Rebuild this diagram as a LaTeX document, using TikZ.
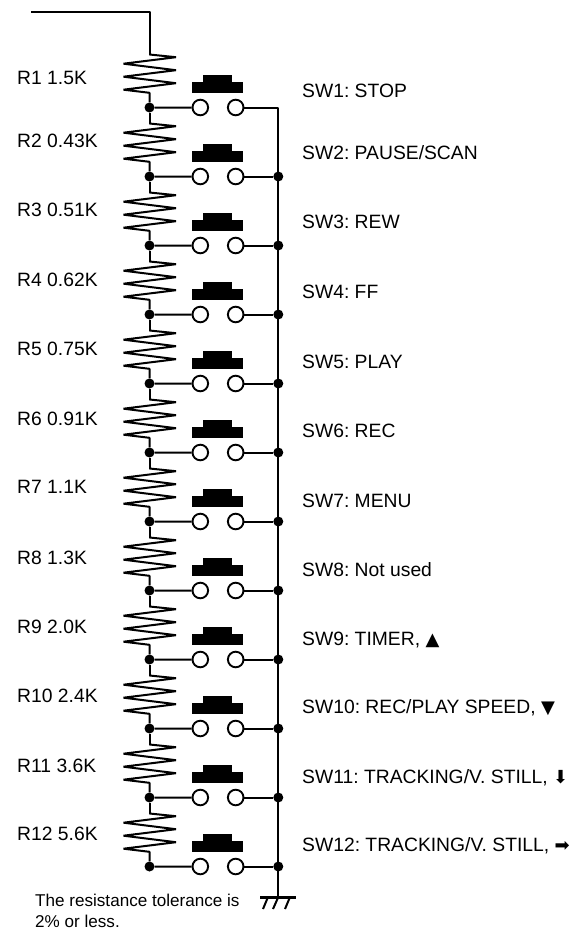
\documentclass[tikz,border=0pt]{standalone}
\usepackage{fontspec}
\setmainfont{Liberation Sans}
\newfontfamily\symfont{DejaVu Sans}
\frenchspacing
\tikzset{
  wire/.style={black, line width=2, line join=bevel},
  junction/.style={circle, fill=black, inner sep=0, minimum size=10},
  contact/.style={circle, draw=black, fill=white, line width=1.9, inner sep=0, minimum size=15.6},
  lab/.style={anchor=base west, inner sep=0, font=\fontsize{19.3}{23}\selectfont},
  note/.style={anchor=base west, inner sep=0, font=\fontsize{17.1}{20}\selectfont},
  keyrow/.pic={
    \coordinate (-top) at (149.5,-53);
    \coordinate (-bot) at (149.5,-14.7);
    \node [junction] (-left) at (149.5,0) {};
    \node [contact] (-a) at (200.3,0) {};
    \node [contact] (-b) at (235.7,0) {};
    \draw [wire] (-top) -- ++(26.5,2.7) -- ++(-52.5,6.5) -- ++(52.5,6.5) -- ++(-52.5,6.5)
      -- ++(52.5,6.5) -- ++(-52.5,6.5) -- (-bot) -- (-left) -- (-a);
    \fill [black] (192.3,-25.5) rectangle (243.3,-14.7);
    \fill [black] (203.3,-33) rectangle (232,-25.5);
  }
}
\newcommand{\mk}[1]{{\symfont\fontsize{18}{21}\selectfont #1}}

\begin{document}
\begin{tikzpicture}[x=1pt, y=-1pt]
\useasboundingbox (0,0) rectangle (576,929);

\pic (sw1) at (0,107.5) {keyrow};
\pic (sw2) at (0,176.5) {keyrow};
\pic (sw3) at (0,245.5) {keyrow};
\pic (sw4) at (0,314.5) {keyrow};
\pic (sw5) at (0,383.5) {keyrow};
\pic (sw6) at (0,452.5) {keyrow};
\pic (sw7) at (0,521.5) {keyrow};
\pic (sw8) at (0,590.5) {keyrow};
\pic (sw9) at (0,659.5) {keyrow};
\pic (sw10) at (0,728.5) {keyrow};
\pic (sw11) at (0,797.5) {keyrow};
\pic (sw12) at (0,866.5) {keyrow};

\coordinate (feed) at (31,12);
\draw [wire] (feed) -| (sw1-top);

\draw [wire] (sw1-left) -- (sw2-top);
\draw [wire] (sw2-left) -- (sw3-top);
\draw [wire] (sw3-left) -- (sw4-top);
\draw [wire] (sw4-left) -- (sw5-top);
\draw [wire] (sw5-left) -- (sw6-top);
\draw [wire] (sw6-left) -- (sw7-top);
\draw [wire] (sw7-left) -- (sw8-top);
\draw [wire] (sw8-left) -- (sw9-top);
\draw [wire] (sw9-left) -- (sw10-top);
\draw [wire] (sw10-left) -- (sw11-top);
\draw [wire] (sw11-left) -- (sw12-top);

% common rail
\coordinate (rail1) at (278.3,107.5);
\node [junction] (rail2) at (278.3,176.5) {};
\node [junction] (rail3) at (278.3,245.5) {};
\node [junction] (rail4) at (278.3,314.5) {};
\node [junction] (rail5) at (278.3,383.5) {};
\node [junction] (rail6) at (278.3,452.5) {};
\node [junction] (rail7) at (278.3,521.5) {};
\node [junction] (rail8) at (278.3,590.5) {};
\node [junction] (rail9) at (278.3,659.5) {};
\node [junction] (rail10) at (278.3,728.5) {};
\node [junction] (rail11) at (278.3,797.5) {};
\node [junction] (rail12) at (278.3,866.5) {};
\coordinate (gnd) at (278.3,897);

\draw [wire] (sw1-b) -- (rail1) -- (gnd);
\draw [wire] (sw2-b) -- (rail2);
\draw [wire] (sw3-b) -- (rail3);
\draw [wire] (sw4-b) -- (rail4);
\draw [wire] (sw5-b) -- (rail5);
\draw [wire] (sw6-b) -- (rail6);
\draw [wire] (sw7-b) -- (rail7);
\draw [wire] (sw8-b) -- (rail8);
\draw [wire] (sw9-b) -- (rail9);
\draw [wire] (sw10-b) -- (rail10);
\draw [wire] (sw11-b) -- (rail11);
\draw [wire] (sw12-b) -- (rail12);

% ground
\draw [black, line width=3] (260,897.5) -- (296,897.5);
\draw [wire] (268,897) -- (263,909);
\draw [wire] (278.3,897) -- (273,909);
\draw [wire] (290,897) -- (285,909);

\draw (17,84) node (rval1) [lab] {R1 1.5K};
\draw (17,147) node (rval2) [lab] {R2 0.43K};
\draw (17,216) node (rval3) [lab] {R3 0.51K};
\draw (17,286) node (rval4) [lab] {R4 0.62K};
\draw (17,355) node (rval5) [lab] {R5 0.75K};
\draw (17,425) node (rval6) [lab] {R6 0.91K};
\draw (17,493) node (rval7) [lab] {R7 1.1K};
\draw (17,564) node (rval8) [lab] {R8 1.3K};
\draw (17,633) node (rval9) [lab] {R9 2.0K};
\draw (17,702) node (rval10) [lab] {R10 2.4K};
\draw (17,772) node (rval11) [lab] {R11 3.6K};
\draw (17,840) node (rval12) [lab] {R12 5.6K};

\draw (302,97) node (name1) [lab] {SW1: STOP};
\draw (302,159) node (name2) [lab] {SW2: PAUSE/SCAN};
\draw (302,228) node (name3) [lab] {SW3: REW};
\draw (302,298) node (name4) [lab] {SW4: FF};
\draw (302,368) node (name5) [lab] {SW5: PLAY};
\draw (302,437) node (name6) [lab] {SW6: REC};
\draw (302,507) node (name7) [lab] {SW7: MENU};
\draw (302,576) node (name8) [lab] {SW8: Not used};
\draw (302,645) node (name9) [lab] {SW9: TIMER, \mk{▲}};
\draw (302,713) node (name10) [lab] {SW10: REC/PLAY SPEED, \mk{▼}};
\draw (302,783) node (name11) [lab] {SW11: TRACKING/V. STILL, \mk{⬇}};
\draw (302,851) node (name12) [lab] {SW12: TRACKING/V. STILL, \mk{➡}};

\draw (35,906) node (tol1) [note] {The resistance tolerance is};
\draw (35,927) node (tol2) [note] {2\% or less.};

\end{tikzpicture}
\end{document}
